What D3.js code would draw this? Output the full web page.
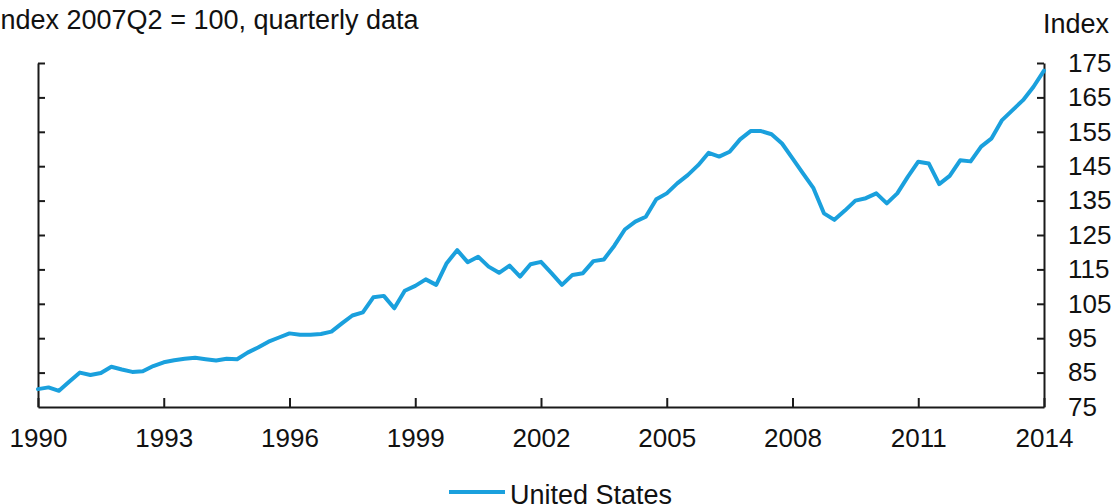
<!DOCTYPE html>
<html>
<head>
<meta charset="utf-8">
<script src="https://cdn.jsdelivr.net/npm/d3@7"></script>
<style>
  html, body { margin: 0; padding: 0; background: #fff; }
  svg { display: block; }
  text { font-family: "Liberation Sans", Arial, sans-serif; fill: #111; }
</style>
</head>
<body>
<svg id="chart" width="1115" height="504"></svg>
<script>
// ---- data ----
const startYear = 1990;             // first quarter: 1990Q1
const seriesName = "United States";
const usValues = [
  80.2, 80.7, 79.7, 82.4, 85.0, 84.3, 84.9, 86.7, 85.9, 85.2,
  85.4, 86.9, 88.0, 88.6, 89.0, 89.3, 88.9, 88.5, 89.0, 88.9,
  90.8, 92.3, 94.0, 95.2, 96.4, 96.0, 96.0, 96.2, 96.9, 99.3,
  101.6, 102.5, 106.9, 107.3, 103.7, 108.8, 110.2, 112.1, 110.5, 116.8,
  120.6, 117.1, 118.7, 115.8, 114.0, 116.1, 112.9, 116.5, 117.2, 113.9,
  110.5, 113.4, 113.9, 117.4, 117.9, 121.9, 126.6, 128.9, 130.3, 135.4,
  137.1, 140.0, 142.4, 145.3, 148.9, 147.8, 149.2, 152.8, 155.2, 155.2,
  154.3, 151.6, 147.3, 142.9, 138.6, 131.3, 129.4, 132.1, 135.0, 135.7,
  137.1, 134.2, 137.1, 141.9, 146.3, 145.8, 139.8, 142.2, 146.7, 146.4,
  150.7, 153.1, 158.4, 161.3, 164.2, 168.1, 172.8
];
const xTickYears = [1990, 1993, 1996, 1999, 2002, 2005, 2008, 2011, 2014];
const yTicks = [75, 85, 95, 105, 115, 125, 135, 145, 155, 165, 175];
const titleText = "Index 2007Q2 = 100, quarterly data";
const rightTitle = "Index";

// ---- layout ----
const svg = d3.select("#chart");
const mLeft = 38, mRight = 1044, mTop = 63, mBottom = 407;
const x = d3.scaleLinear().domain([1990, 2014]).range([mLeft, mRight]);
const y = d3.scaleLinear().domain([75, 175]).range([mBottom, mTop]);
const data = usValues.map((v, i) => ({ t: startYear + i / 4, v }));
const axisColor = "#1a1a1a";
const lineColor = "#1aa0dd";

// bottom axis
const xAxis = d3.axisBottom(x).tickValues(xTickYears).tickFormat(d3.format("d"))
  .tickSizeInner(-9).tickSizeOuter(0).tickPadding(22);
const gx = svg.append("g").attr("transform", `translate(0,${mBottom})`).call(xAxis);
gx.select(".domain").attr("stroke", axisColor).attr("stroke-width", 2);
gx.selectAll(".tick line").attr("stroke", axisColor).attr("stroke-width", 2);
gx.selectAll(".tick text").attr("font-size", 26).attr("fill", "#111")
  .attr("font-family", "Liberation Sans, Arial, sans-serif");

// left axis (ticks only, no labels)
const yAxisL = d3.axisLeft(y).tickValues(yTicks).tickFormat("")
  .tickSizeInner(-7).tickSizeOuter(0);
const gl = svg.append("g").attr("transform", `translate(${mLeft},0)`).call(yAxisL);
gl.select(".domain").attr("stroke", axisColor).attr("stroke-width", 2);
gl.selectAll(".tick line").attr("stroke", axisColor).attr("stroke-width", 2);
gl.selectAll(".tick").filter(d => d === 75).remove();

// right axis with labels
const yAxisR = d3.axisRight(y).tickValues(yTicks).tickFormat(d3.format("d"))
  .tickSizeInner(-7).tickSizeOuter(0).tickPadding(24);
const gr = svg.append("g").attr("transform", `translate(${mRight},0)`).call(yAxisR);
gr.select(".domain").attr("stroke", axisColor).attr("stroke-width", 2);
gr.selectAll(".tick line").attr("stroke", axisColor).attr("stroke-width", 2);
gr.selectAll(".tick text").attr("font-size", 26).attr("fill", "#111")
  .attr("font-family", "Liberation Sans, Arial, sans-serif");
gr.selectAll(".tick").filter(d => d === 75).select("line").remove();

// line
const line = d3.line().x(d => x(d.t)).y(d => y(d.v));
svg.append("path").datum(data)
  .attr("d", line)
  .attr("fill", "none")
  .attr("stroke", lineColor)
  .attr("stroke-width", 4)
  .attr("stroke-linejoin", "round")
  .attr("stroke-linecap", "round");

// titles
svg.append("text").attr("x", -7).attr("y", 29).attr("font-size", 27).text(titleText);
svg.append("text").attr("x", 1043).attr("y", 33).attr("font-size", 27).text(rightTitle);

// legend
const lg = svg.append("g");
lg.append("line").attr("x1", 449).attr("x2", 505).attr("y1", 492).attr("y2", 492)
  .attr("stroke", lineColor).attr("stroke-width", 4);
lg.append("text").attr("x", 510).attr("y", 504).attr("font-size", 27).text(seriesName);
</script>
</body>
</html>
